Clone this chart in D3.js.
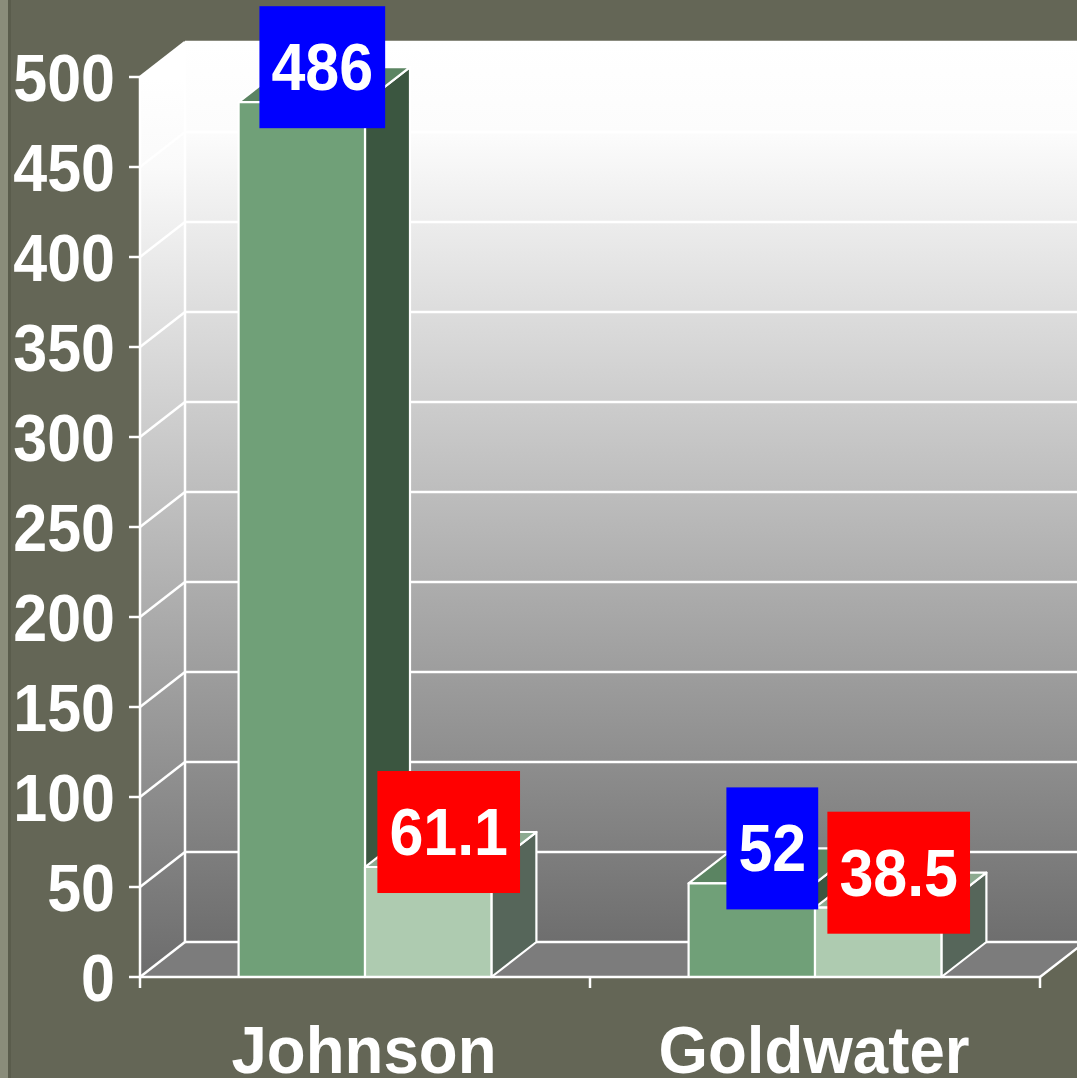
<!DOCTYPE html>
<html>
<head>
<meta charset="utf-8">
<script src="https://cdn.jsdelivr.net/npm/d3@7"></script>
<style>
  html, body { margin: 0; padding: 0; background: #646656; }
  svg { display: block; }
</style>
</head>
<body>
<div id="chart"></div>
<script>
// 1964 election: Johnson vs Goldwater
const categories = ["Johnson", "Goldwater"];
const seriesNames = ["Electoral Votes", "Popular Vote %"];
const electoralVotes = [486, 52];
const popularVote = [61.1, 38.5];
const yTicks = [0, 50, 100, 150, 200, 250, 300, 350, 400, 450, 500];

const W = 1077, H = 1078;
const DX = 45, DY = -35; // 3d depth offset
const FONT = "'Liberation Sans', Arial, Helvetica, sans-serif";

const STYLE = {
  bg: "#646656",
  floor: "#7c7c7c",
  line: "#ffffff",
  label: ["#0000ff", "#ff0000"],
  front: ["#70a078", "#aecbb0"],
  top: ["#5b8462", "#8caa90"],
  side: ["#3b5640", "#56665a"],
};

const svg = d3.select("#chart").append("svg")
  .attr("width", W).attr("height", H);

// background + left strip
svg.append("rect").attr("width", W).attr("height", H).attr("fill", STYLE.bg);
svg.append("rect").attr("x", 0).attr("y", 0).attr("width", 8).attr("height", H).attr("fill", "#8a8c7a");
svg.append("rect").attr("x", 8).attr("y", 0).attr("width", 3).attr("height", H).attr("fill", "#5a5c4c");

const y = d3.scaleLinear().domain([0, 500]).range([977, 77]);
const x0 = d3.scaleBand().domain(categories).range([140, 1040]);
const x1 = d3.scaleBand().domain(seriesNames).range([0, x0.bandwidth()])
  .paddingInner(0).paddingOuter(0.78);

const defs = svg.append("defs");
const grad = defs.append("linearGradient")
  .attr("id", "wall").attr("gradientUnits", "userSpaceOnUse")
  .attr("x1", 0).attr("x2", 0).attr("y1", y(500) + DY).attr("y2", y(0) + DY);
grad.append("stop").attr("offset", "0%").attr("stop-color", "#ffffff");
grad.append("stop").attr("offset", "10%").attr("stop-color", "#fcfcfc");
grad.append("stop").attr("offset", "100%").attr("stop-color", "#6e6e6e");

const gradSide = defs.append("linearGradient")
  .attr("id", "sidewall").attr("gradientUnits", "userSpaceOnUse")
  .attr("x1", 0).attr("x2", 0).attr("y1", y(500)).attr("y2", y(0));
gradSide.append("stop").attr("offset", "0%").attr("stop-color", "#ffffff");
gradSide.append("stop").attr("offset", "10%").attr("stop-color", "#fafafa");
gradSide.append("stop").attr("offset", "100%").attr("stop-color", "#6c6c6c");

const xL = x0.range()[0], xR = x0.range()[1];
const pts = a => a.map(p => p.join(",")).join(" ");

// back wall
svg.append("rect")
  .attr("x", xL + DX).attr("y", y(500) + DY)
  .attr("width", W - xL - DX + 20).attr("height", y(0) - y(500))
  .attr("fill", "url(#wall)");

// left wall
svg.append("polygon")
  .attr("points", pts([[xL, y(500)], [xL + DX, y(500) + DY], [xL + DX, y(0) + DY], [xL, y(0)]]))
  .attr("fill", "url(#sidewall)");

// floor
svg.append("polygon")
  .attr("points", pts([[xL, y(0)], [xR, y(0)], [xR + DX, y(0) + DY], [W + 20, y(0) + DY], [xL + DX, y(0) + DY]]))
  .attr("fill", STYLE.floor);

// gridlines on walls
const grid = svg.append("g").attr("stroke", STYLE.line).attr("stroke-width", 2.5).attr("fill", "none");
grid.selectAll("line.back").data(yTicks.filter(d => d > 0)).join("line")
  .attr("x1", xL + DX).attr("x2", W + 10)
  .attr("y1", d => y(d) + DY).attr("y2", d => y(d) + DY);
grid.selectAll("line.side").data(yTicks.filter(d => d > 0)).join("line")
  .attr("x1", xL).attr("y1", d => y(d))
  .attr("x2", xL + DX).attr("y2", d => y(d) + DY);
// wall edges
grid.append("line").attr("x1", xL + DX).attr("x2", xL + DX).attr("y1", y(500) + DY).attr("y2", y(0) + DY);
grid.append("line").attr("x1", xL + DX).attr("x2", W + 10).attr("y1", y(0) + DY).attr("y2", y(0) + DY);
grid.append("line").attr("x1", xL).attr("y1", y(0)).attr("x2", xL + DX).attr("y2", y(0) + DY);
grid.append("line").attr("x1", xR).attr("y1", y(0)).attr("x2", xR + DX).attr("y2", y(0) + DY);
grid.append("line").attr("x1", xL).attr("x2", xL).attr("y1", y(500)).attr("y2", y(0));

// bars
const rows = categories.map((c, i) => [
  { cat: c, s: 0, value: electoralVotes[i] },
  { cat: c, s: 1, value: popularVote[i] },
]);

const barG = svg.append("g").attr("stroke", STYLE.line).attr("stroke-width", 2.2).attr("stroke-linejoin", "round");
rows.flat().forEach(d => {
  const bx = x0(d.cat) + x1(seriesNames[d.s]);
  const bw = x1.bandwidth();
  const by = y(d.value), b0 = y(0);
  barG.append("polygon")
    .attr("points", pts([[bx + bw, by], [bx + bw + DX, by + DY], [bx + bw + DX, b0 + DY], [bx + bw, b0]]))
    .attr("fill", STYLE.side[d.s]);
  barG.append("polygon")
    .attr("points", pts([[bx, by], [bx + DX, by + DY], [bx + bw + DX, by + DY], [bx + bw, by]]))
    .attr("fill", STYLE.top[d.s]);
  barG.append("rect")
    .attr("x", bx).attr("y", by).attr("width", bw).attr("height", b0 - by)
    .attr("fill", STYLE.front[d.s]);
});

// front floor edge + category ticks
const axisG = svg.append("g").attr("stroke", STYLE.line).attr("stroke-width", 2.5);
axisG.append("line").attr("x1", xL).attr("x2", xR).attr("y1", y(0)).attr("y2", y(0));
const catEdges = categories.map(c => x0(c)).concat([xR]);
axisG.selectAll("line.ct").data(catEdges).join("line")
  .attr("x1", d => d).attr("x2", d => d).attr("y1", y(0)).attr("y2", y(0) + 11);
axisG.selectAll("line.yt").data(yTicks).join("line")
  .attr("x1", xL - 11).attr("x2", xL).attr("y1", d => y(d)).attr("y2", d => y(d));

function bigText(g, txt, cx, baseline, anchor, sx) {
  return g.append("text")
    .attr("transform", `translate(${cx},${baseline}) scale(${sx},1)`)
    .attr("text-anchor", anchor)
    .attr("font-family", FONT).attr("font-weight", "bold")
    .attr("font-size", 67).attr("fill", "#fff")
    .text(txt);
}

// y tick labels
const tl = svg.append("g");
yTicks.forEach(v => bigText(tl, String(v), 115, y(v) + 24, "end", 0.91));

// category labels
const cl = svg.append("g");
categories.forEach(c => bigText(cl, c, x0(c) + x0.bandwidth() / 2 - 1, 1073, "middle", 0.95));

// value labels in coloured boxes
const SX = 0.91;
const vl = svg.append("g");
rows.flat().forEach(d => {
  const cx = x0(d.cat) + x1(seriesNames[d.s]) + x1.bandwidth() / 2 + DX / 2 - 2;
  const cy = y(d.value) + DY;
  const box = vl.append("rect").attr("fill", STYLE.label[d.s]);
  const t = bigText(vl, String(d.value), cx, cy + 23, "middle", SX);
  const tw = t.node().getComputedTextLength() * SX;
  box.attr("x", cx - tw / 2 - 12).attr("width", tw + 24)
    .attr("y", cy - 61).attr("height", 122);
});
</script>
</body>
</html>
